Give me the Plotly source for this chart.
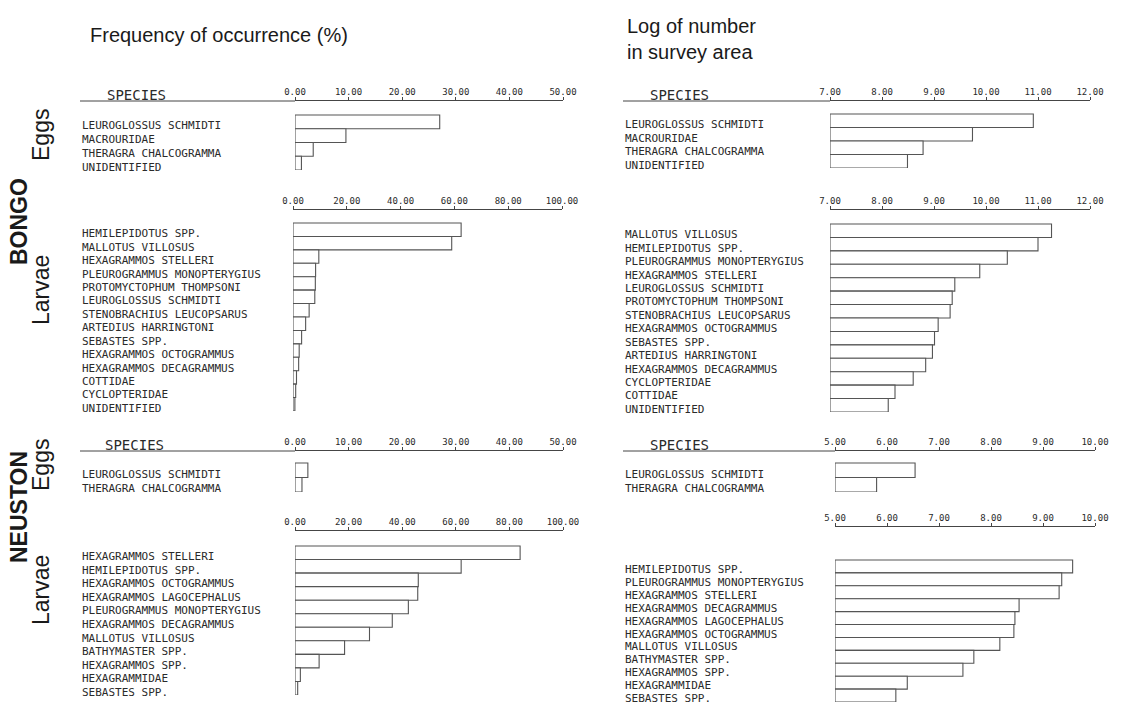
import plotly.graph_objects as go

W, H = 1139, 707

# ---------------- data ----------------
bongo_eggs_freq_species = ["LEUROGLOSSUS SCHMIDTI", "MACROURIDAE", "THERAGRA CHALCOGRAMMA", "UNIDENTIFIED"]
bongo_eggs_freq = [27.0, 9.5, 3.4, 1.2]

bongo_eggs_log_species = ["LEUROGLOSSUS SCHMIDTI", "MACROURIDAE", "THERAGRA CHALCOGRAMMA", "UNIDENTIFIED"]
bongo_eggs_log = [10.91, 9.74, 8.79, 8.49]

bongo_larvae_freq_species = [
    "HEMILEPIDOTUS SPP.", "MALLOTUS VILLOSUS", "HEXAGRAMMOS STELLERI",
    "PLEUROGRAMMUS MONOPTERYGIUS", "PROTOMYCTOPHUM THOMPSONI", "LEUROGLOSSUS SCHMIDTI",
    "STENOBRACHIUS LEUCOPSARUS", "ARTEDIUS HARRINGTONI", "SEBASTES SPP.",
    "HEXAGRAMMOS OCTOGRAMMUS", "HEXAGRAMMOS DECAGRAMMUS", "COTTIDAE",
    "CYCLOPTERIDAE", "UNIDENTIFIED"]
bongo_larvae_freq = [62.5, 59.0, 9.6, 8.4, 8.3, 8.1, 6.0, 4.7, 3.2, 2.3, 2.1, 1.3, 1.0, 0.7]

bongo_larvae_log_species = [
    "MALLOTUS VILLOSUS", "HEMILEPIDOTUS SPP.", "PLEUROGRAMMUS MONOPTERYGIUS",
    "HEXAGRAMMOS STELLERI", "LEUROGLOSSUS SCHMIDTI", "PROTOMYCTOPHUM THOMPSONI",
    "STENOBRACHIUS LEUCOPSARUS", "HEXAGRAMMOS OCTOGRAMMUS", "SEBASTES SPP.",
    "ARTEDIUS HARRINGTONI", "HEXAGRAMMOS DECAGRAMMUS", "CYCLOPTERIDAE",
    "COTTIDAE", "UNIDENTIFIED"]
bongo_larvae_log = [11.26, 11.0, 10.41, 9.88, 9.40, 9.35, 9.31, 9.08, 9.01, 8.97, 8.84, 8.60, 8.25, 8.12]

neuston_eggs_freq_species = ["LEUROGLOSSUS SCHMIDTI", "THERAGRA CHALCOGRAMMA"]
neuston_eggs_freq = [2.4, 1.3]

neuston_eggs_log_species = ["LEUROGLOSSUS SCHMIDTI", "THERAGRA CHALCOGRAMMA"]
neuston_eggs_log = [6.54, 5.80]

neuston_larvae_freq_species = [
    "HEXAGRAMMOS STELLERI", "HEMILEPIDOTUS SPP.", "HEXAGRAMMOS OCTOGRAMMUS",
    "HEXAGRAMMOS LAGOCEPHALUS", "PLEUROGRAMMUS MONOPTERYGIUS", "HEXAGRAMMOS DECAGRAMMUS",
    "MALLOTUS VILLOSUS", "BATHYMASTER SPP.", "HEXAGRAMMOS SPP.",
    "HEXAGRAMMIDAE", "SEBASTES SPP."]
neuston_larvae_freq = [84.0, 62.0, 46.0, 45.8, 42.3, 36.3, 27.8, 18.5, 9.0, 2.0, 1.0]

neuston_larvae_log_species = [
    "HEMILEPIDOTUS SPP.", "PLEUROGRAMMUS MONOPTERYGIUS", "HEXAGRAMMOS STELLERI",
    "HEXAGRAMMOS DECAGRAMMUS", "HEXAGRAMMOS LAGOCEPHALUS", "HEXAGRAMMOS OCTOGRAMMUS",
    "MALLOTUS VILLOSUS", "BATHYMASTER SPP.", "HEXAGRAMMOS SPP.",
    "HEXAGRAMMIDAE", "SEBASTES SPP."]
neuston_larvae_log = [9.57, 9.36, 9.31, 8.54, 8.46, 8.44, 8.17, 7.67, 7.46, 6.39, 6.17]

# axis scales (min, max, step) for each panel
freq_eggs_scale = (0, 50, 10)
freq_larvae_scale = (0, 100, 20)
bongo_log_scale = (7, 12, 1)
neuston_log_scale = (5, 10, 1)

# ---------------- layout (pixel positions) ----------------
panels = [
    dict(sp=bongo_eggs_freq_species, v=bongo_eggs_freq, sc=freq_eggs_scale,
         x0=295, x1=563, ay=101, bt=115, bb=170, lx=80, species=True, sx=105, ysh=-4),
    dict(sp=bongo_eggs_log_species, v=bongo_eggs_log, sc=bongo_log_scale,
         x0=830, x1=1090, ay=101, bt=114, bb=168, lx=623, species=True, sx=648, ysh=-4),
    dict(sp=bongo_larvae_freq_species, v=bongo_larvae_freq, sc=freq_larvae_scale,
         x0=293, x1=562, ay=210, bt=223, bb=411, lx=80, species=False, ysh=-4),
    dict(sp=bongo_larvae_log_species, v=bongo_larvae_log, sc=bongo_log_scale,
         x0=830, x1=1090, ay=210, bt=224, bb=412, lx=623, species=False, ysh=-4),
    dict(sp=neuston_eggs_freq_species, v=neuston_eggs_freq, sc=freq_eggs_scale,
         x0=295, x1=563, ay=451, bt=463, bb=492, lx=80, species=True, sx=103, ysh=-4),
    dict(sp=neuston_eggs_log_species, v=neuston_eggs_log, sc=neuston_log_scale,
         x0=835, x1=1095, ay=451, bt=463, bb=492, lx=623, species=True, sx=648, ysh=-4),
    dict(sp=neuston_larvae_freq_species, v=neuston_larvae_freq, sc=freq_larvae_scale,
         x0=295, x1=563, ay=531, bt=546, bb=695, lx=80, species=False, ysh=-4),
    dict(sp=neuston_larvae_log_species, v=neuston_larvae_log, sc=neuston_log_scale,
         x0=835, x1=1095, ay=527, bt=560, bb=702, lx=623, species=False, ysh=-3),
]

INK = "#2a2a2a"
MONO = "DejaVu Sans Mono"
SANS = "Liberation Sans"

fig = go.Figure()
annotations = []
shapes = []
layout_axes = {}

for k, p in enumerate(panels, start=1):
    n = len(p["v"])
    xmin, xmax, step = p["sc"]
    bar_h = (p["bb"] - p["bt"]) / n
    pad = (p["bt"] - p["ay"]) / bar_h
    xs = "x" if k == 1 else f"x{k}"
    ys = "y" if k == 1 else f"y{k}"
    fig.add_trace(go.Bar(
        orientation="h",
        y=list(range(n)),
        x=[val - xmin for val in p["v"]],
        base=xmin,
        width=1.0,
        marker=dict(color="white", line=dict(color="#555555", width=1.1)),
        xaxis=xs, yaxis=ys, hoverinfo="skip",
    ))
    ticks = list(range(xmin, xmax + 1, step))
    layout_axes["xaxis" if k == 1 else f"xaxis{k}"] = dict(
        domain=[p["x0"] / W, p["x1"] / W], range=[xmin, xmax], anchor=ys,
        side="top", showline=True, linecolor="#454545", linewidth=1,
        ticks="outside", ticklen=3, tickcolor="#454545", tickwidth=1,
        ticklabelstandoff=-2,
        tickvals=ticks, tickformat=".2f",
        tickfont=dict(family=MONO, size=9, color=INK),
        showgrid=False, zeroline=False, fixedrange=True, automargin=False,
    )
    layout_axes["yaxis" if k == 1 else f"yaxis{k}"] = dict(
        domain=[1 - p["bb"] / H, 1 - p["ay"] / H],
        range=[n - 0.5, -0.5 - pad], anchor=xs, visible=False, fixedrange=True,
        automargin=False,
    )
    for i, name in enumerate(p["sp"]):
        annotations.append(dict(
            text=name, xref="paper", yref=ys, x=p["lx"] / W, y=i,
            xanchor="left", yanchor="middle", showarrow=False, yshift=p["ysh"],
            font=dict(family=MONO, size=11, color=INK),
        ))
    if p["species"]:
        annotations.append(dict(
            text="SPECIES", xref="paper", yref="paper",
            x=p["sx"] / W, y=1 - (p["ay"] + 4) / H,
            xanchor="left", yanchor="bottom", showarrow=False,
            font=dict(family=MONO, size=14, color=INK),
        ))
        shapes.append(dict(
            type="line", xref="paper", yref="paper",
            x0=(p["lx"]) / W, x1=p["x0"] / W,
            y0=1 - p["ay"] / H, y1=1 - p["ay"] / H,
            line=dict(color="#454545", width=1),
        ))

# titles
annotations += [
    dict(text="Frequency of occurrence (%)", xref="paper", yref="paper",
         x=88 / W, y=1 - 35 / H, xanchor="left", yanchor="middle", showarrow=False,
         font=dict(family=SANS, size=20, color="#1a1a1a")),
    dict(text="Log of number<br>in survey area", xref="paper", yref="paper",
         x=625 / W, y=1 - 39 / H, xanchor="left", yanchor="middle", showarrow=False,
         align="left", font=dict(family=SANS, size=20, color="#1a1a1a")),
]

# group labels (rotated)
side_labels = [
    ("<b>BONGO</b>", 19, 222, 23),
    ("Eggs", 41, 135, 23),
    ("Larvae", 41, 290, 23),
    ("<b>NEUSTON</b>", 19, 507, 23),
    ("Eggs", 41, 465, 23),
    ("Larvae", 41, 590, 23),
]
for txt, cx, cy, fs in side_labels:
    annotations.append(dict(
        text=txt, xref="paper", yref="paper", x=cx / W, y=1 - cy / H,
        xanchor="center", yanchor="middle", showarrow=False, textangle=-90,
        font=dict(family=SANS, size=fs, color="#1a1a1a"),
    ))

fig.update_layout(
    width=W, height=H, autosize=False, margin=dict(l=0, r=0, t=0, b=0, pad=0),
    paper_bgcolor="white", plot_bgcolor="rgba(0,0,0,0)",
    showlegend=False, bargap=0,
    annotations=annotations, shapes=shapes,
    **layout_axes,
)

page_fix = (
    "document.documentElement.style.margin='0';"
    "document.documentElement.style.overflow='hidden';"
    "document.body.style.margin='0';document.body.style.padding='0';"
    "document.body.style.overflow='hidden';"
    "var gd=document.getElementById('{plot_id}');"
    "Plotly.relayout(gd,{width:%d,height:%d});" % (W, H)
)

fig.write_html("out.html", post_script=page_fix,
               config={"displayModeBar": False, "staticPlot": True})
